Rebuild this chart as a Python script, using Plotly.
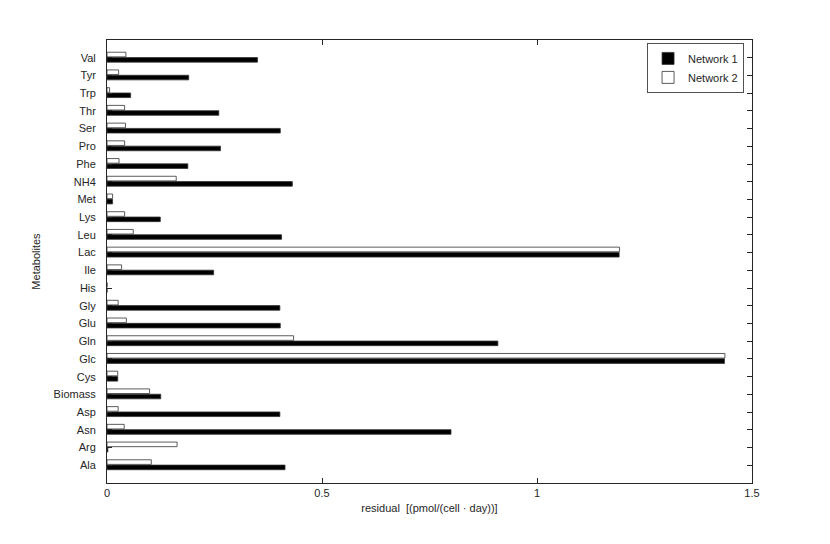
import plotly.graph_objects as go

categories = ["Ala", "Arg", "Asn", "Asp", "Biomass", "Cys", "Glc", "Gln", "Glu", "Gly",
              "His", "Ile", "Lac", "Leu", "Lys", "Met", "NH4", "Phe", "Pro", "Ser",
              "Thr", "Trp", "Tyr", "Val"]
network1 = [0.414, 0.002, 0.800, 0.402, 0.125, 0.025, 1.436, 0.909, 0.403, 0.402,
            0.0, 0.248, 1.191, 0.406, 0.124, 0.013, 0.431, 0.188, 0.264, 0.403,
            0.260, 0.055, 0.190, 0.350]
network2 = [0.103, 0.163, 0.040, 0.026, 0.099, 0.025, 1.437, 0.434, 0.045, 0.026,
            0.0, 0.034, 1.192, 0.061, 0.041, 0.013, 0.161, 0.028, 0.041, 0.043,
            0.041, 0.006, 0.027, 0.044]
x_ticks = [0, 0.5, 1, 1.5]
x_tick_labels = ["0", "0.5", "1", "1.5"]

font = dict(family="Liberation Sans, Arial, sans-serif", size=11, color="#262626")

fig = go.Figure()
fig.add_trace(go.Bar(
    y=categories, x=network1, orientation="h", name="Network 1",
    marker=dict(color="black", line=dict(color="#333333", width=0.8)),
    width=0.26, offset=-0.25,
))
fig.add_trace(go.Bar(
    y=categories, x=network2, orientation="h", name="Network 2",
    marker=dict(color="white", line=dict(color="#333333", width=0.8)),
    width=0.26, offset=0.05,
))

fig.update_layout(
    width=830, height=544,
    margin=dict(l=99, r=86, t=32, b=69),
    paper_bgcolor="white", plot_bgcolor="white",
    barmode="overlay",
    font=font,
    showlegend=True,
    legend=dict(
        x=0.988, y=0.993, xanchor="right", yanchor="top",
        bgcolor="white", bordercolor="#262626", borderwidth=0.8,
        font=dict(family="Liberation Sans, Arial, sans-serif", size=11, color="#262626"),
        traceorder="normal", itemwidth=30, tracegroupgap=0,
    ),
    xaxis=dict(
        range=[0, 1.5], tickvals=x_ticks, ticktext=x_tick_labels,
        ticks="inside", ticklen=5, tickcolor="#262626", tickwidth=0.8,
        showline=True, linecolor="#262626", linewidth=1, mirror="ticks",
        showgrid=False, zeroline=False,
        title=dict(text="residual  [(pmol/(cell · day))]", standoff=6, font=font),
        automargin=False,
    ),
    yaxis=dict(
        type="category", categoryorder="array", categoryarray=categories,
        range=[-1, 24],
        ticks="inside", ticklen=5, tickcolor="#262626", tickwidth=0.8,
        showline=True, linecolor="#262626", linewidth=1, mirror="ticks",
        showgrid=False, zeroline=False,
        ticklabelstandoff=8,
        title=dict(text="Metabolites", standoff=10, font=font),
        automargin=False,
    ),
)

fig.write_html("out.html")
